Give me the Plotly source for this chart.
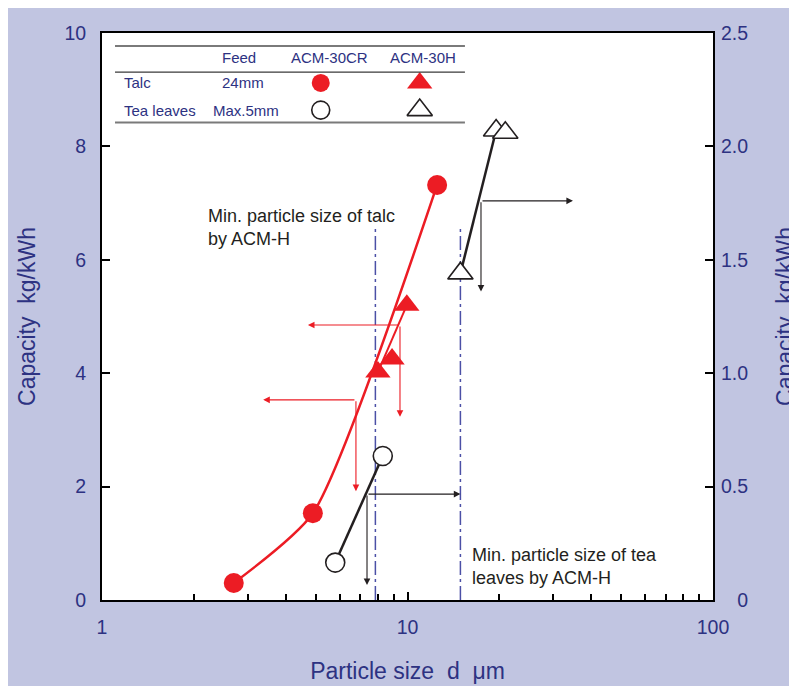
import numpy as np
import plotly.graph_objects as go

# ---------------- data ----------------
talc_cr_x = [2.7, 4.9, 12.5]          # Talc, ACM-30CR (left axis)
talc_cr_y = [0.30, 1.53, 7.32]
talc_h_x = [8.0, 8.9, 9.95]           # Talc, ACM-30H (left axis)
talc_h_y = [4.02, 4.25, 5.20]
tea_cr_x = [5.8, 8.3]                 # Tea leaves, ACM-30CR (right axis)
tea_cr_y = [0.165, 0.635]
tea_h_x = [14.9, 19.5, 20.9]          # Tea leaves, ACM-30H (right axis)
tea_h_y = [1.44, 2.07, 2.06]

min_size_x = [7.85, 14.9]             # min. particle size lines (talc, tea)
min_size_top = 6.6

# arrows: origin x, origin y, horizontal end x, vertical end y
red_arrows_ox = [9.45, 6.78]
red_arrows_oy = [4.85, 3.53]
red_arrows_hx = [4.72, 3.37]
red_arrows_vy = [3.23, 1.92]
black_arrows_ox = [7.37, 17.4]
black_arrows_oy = [0.467, 1.76]      # right axis
black_arrows_hx = [14.9, 34.8]
black_arrows_vy = [0.066, 1.36]

x_ticks = [1, 10, 100]
x_minor = [2, 3, 4, 5, 6, 7, 8, 9, 20, 30, 40, 50, 60, 70, 80, 90]
y_left_ticks = [0, 2, 4, 6, 8, 10]
y_right_ticks = [0, 0.5, 1.0, 1.5, 2.0, 2.5]
y_right_text = ["\u2007\u20080", "0.5", "1.0", "1.5", "2.0", "2.5"]

table_header = ["Feed", "ACM-30CR", "ACM-30H"]
table_rows = ["Talc", "Tea leaves"]
table_feed = ["24mm", "Max.5mm"]

# ---------------- styles ----------------
RED = "#ec1c24"
BLACK = "#231f20"
NAVY = "#2d3282"
DASH_BLUE = "#4b50a6"
BG = "#c1c5e1"
FONT = "Liberation Sans, Arial, sans-serif"

fig = go.Figure()

# vertical dash-dot lines
for xv in min_size_x:
    fig.add_trace(go.Scatter(x=[xv, xv], y=[0, min_size_top], mode="lines",
                             line=dict(color=DASH_BLUE, width=1.5, dash="14px,4px,3px,4px"),
                             hoverinfo="skip"))

# Talc ACM-30CR
fig.add_trace(go.Scatter(x=talc_cr_x, y=talc_cr_y, mode="lines",
                         line=dict(color=RED, width=2.5, shape="spline", smoothing=0.6)))
fig.add_trace(go.Scatter(x=talc_cr_x, y=talc_cr_y, mode="markers",
                         marker=dict(symbol="circle", size=20, color=RED, line=dict(width=0))))

# Talc ACM-30H
fig.add_trace(go.Scatter(x=[talc_h_x[0], talc_h_x[-1]], y=[talc_h_y[0], talc_h_y[-1]], mode="lines",
                         line=dict(color=RED, width=2)))
fig.add_trace(go.Scatter(x=talc_h_x, y=talc_h_y, mode="markers",
                         marker=dict(symbol="triangle-up", size=22, color=RED, line=dict(width=0))))

# Tea leaves ACM-30CR (right axis)
fig.add_trace(go.Scatter(x=tea_cr_x, y=tea_cr_y, mode="lines", yaxis="y2",
                         line=dict(color=BLACK, width=2.5)))
fig.add_trace(go.Scatter(x=tea_cr_x, y=tea_cr_y, mode="markers", yaxis="y2",
                         marker=dict(symbol="circle", size=19, color="white",
                                     line=dict(color=BLACK, width=1.6))))

# Tea leaves ACM-30H (right axis)
fig.add_trace(go.Scatter(x=tea_h_x[:2], y=tea_h_y[:2], mode="lines", yaxis="y2",
                         line=dict(color=BLACK, width=2.5)))
fig.add_trace(go.Scatter(x=tea_h_x, y=tea_h_y, mode="markers", yaxis="y2",
                         marker=dict(symbol="triangle-up", size=22, color="white",
                                     line=dict(color=BLACK, width=1.6))))

# ---------------- legend table markers (overlay axes 0..1 over plot area) ----------------
col_u = [0.358, 0.520]
row_v = [0.912, 0.864]
fig.add_trace(go.Scatter(x=[col_u[0]], y=[row_v[0]], xaxis="x3", yaxis="y3", mode="markers",
                         marker=dict(symbol="circle", size=18, color=RED)))
fig.add_trace(go.Scatter(x=[col_u[1]], y=[row_v[0]], xaxis="x3", yaxis="y3", mode="markers",
                         marker=dict(symbol="triangle-up", size=22, color=RED)))
fig.add_trace(go.Scatter(x=[col_u[0]], y=[row_v[1]], xaxis="x3", yaxis="y3", mode="markers",
                         marker=dict(symbol="circle", size=18, color="white",
                                     line=dict(color=BLACK, width=1.6))))
fig.add_trace(go.Scatter(x=[col_u[1]], y=[row_v[1]], xaxis="x3", yaxis="y3", mode="markers",
                         marker=dict(symbol="triangle-up", size=22, color="white",
                                     line=dict(color=BLACK, width=1.6))))

annotations = []
# table texts
tfont = dict(family=FONT, size=15, color=NAVY)
hdr_u = [0.224, 0.373, 0.525]
for t, u in zip(table_header, hdr_u):
    annotations.append(dict(x=u, y=0.956, xref="paper", yref="paper", text=t, showarrow=False,
                            font=tfont, xanchor="center", yanchor="middle"))
for t, v in zip(table_rows, row_v):
    annotations.append(dict(x=0.0327, y=v, xref="paper", yref="paper", text=t, showarrow=False,
                            font=tfont, xanchor="left", yanchor="middle"))
for t, v, u in zip(table_feed, row_v, [0.231, 0.236]):
    annotations.append(dict(x=u, y=v, xref="paper", yref="paper", text=t, showarrow=False,
                            font=tfont, xanchor="center", yanchor="middle"))

# notes
nfont = dict(family=FONT, size=18, color=BLACK)
annotations.append(dict(x=0.170, y=0.657, xref="paper", yref="paper",
                        text="Min. particle size of talc<br>by ACM-H", showarrow=False,
                        font=nfont, xanchor="left", yanchor="middle", align="left"))
annotations.append(dict(x=0.603, y=0.0594, xref="paper", yref="paper",
                        text="Min. particle size of tea<br>leaves by ACM-H", showarrow=False,
                        font=nfont, xanchor="left", yanchor="middle", align="left"))

# arrows
def add_arrows(oxs, oys, hxs, vys, color, yref):
    for ox, oy, hx, vy in zip(oxs, oys, hxs, vys):
        common = dict(xref="x", yref=yref, axref="x", ayref=yref, text="", showarrow=True,
                      arrowhead=2, arrowsize=1.2, arrowwidth=1.1, arrowcolor=color)
        annotations.append(dict(x=np.log10(hx), y=oy, ax=np.log10(ox), ay=oy, **common))
        annotations.append(dict(x=np.log10(ox), y=vy, ax=np.log10(ox), ay=oy, **common))

add_arrows(red_arrows_ox, red_arrows_oy, red_arrows_hx, red_arrows_vy, RED, "y")
add_arrows(black_arrows_ox, black_arrows_oy, black_arrows_hx, black_arrows_vy, BLACK, "y2")

# table rules
shapes = [
    dict(type="line", xref="paper", yref="paper", x0=0.0213, x1=0.594, y0=0.977, y1=0.977,
         line=dict(color="#7a7a7a", width=2)),
    dict(type="line", xref="paper", yref="paper", x0=0.0213, x1=0.594, y0=0.931, y1=0.931,
         line=dict(color="#3a3a3a", width=1.3)),
    dict(type="line", xref="paper", yref="paper", x0=0.0213, x1=0.594, y0=0.842, y1=0.842,
         line=dict(color="#7a7a7a", width=2)),
]

tickfont = dict(family=FONT, size=19.5, color=NAVY)
titlefont = dict(family=FONT, size=23, color=NAVY)

fig.update_layout(
    width=797, height=686,
    margin=dict(l=94, r=92, t=25, b=94),
    paper_bgcolor=BG, plot_bgcolor="white",
    showlegend=False,
    font=dict(family=FONT, color=NAVY),
    xaxis=dict(type="log", range=[0, 2], tickmode="array", tickvals=x_ticks,
               ticktext=[str(v) for v in x_ticks],
               ticks="inside", ticklen=8, tickwidth=1.5, tickcolor="black",
               minor=dict(tickmode="array", tickvals=x_minor, ticks="inside", ticklen=6,
                          tickwidth=1.5, tickcolor="black", showgrid=False),
               showline=True, linewidth=2, linecolor="black", mirror=True,
               showgrid=False, zeroline=False, tickfont=tickfont, ticklabelstandoff=9,
               title=dict(text="Particle size  d  μm", font=titlefont, standoff=25)),
    yaxis=dict(range=[0, 10], tickmode="array", tickvals=y_left_ticks,
               ticks="inside", ticklen=8, tickwidth=1.5, tickcolor="black",
               showline=True, linewidth=2, linecolor="black", mirror=True,
               showgrid=False, zeroline=False, tickfont=tickfont, ticklabelstandoff=10,
               title=dict(text="Capacity  kg/kWh", font=titlefont, standoff=22)),
    yaxis2=dict(range=[0, 2.5], overlaying="y", side="right", tickmode="array",
                tickvals=y_right_ticks, ticktext=y_right_text,
                ticks="inside", ticklen=8, tickwidth=1.5, tickcolor="black",
                showline=True, linewidth=2, linecolor="black",
                showgrid=False, zeroline=False, tickfont=tickfont, ticklabelstandoff=2,
                title=dict(text="Capacity  kg/kWh", font=titlefont, standoff=30)),
    xaxis3=dict(overlaying="x", anchor="y3", range=[0, 1], visible=False),
    yaxis3=dict(overlaying="y", anchor="x3", range=[0, 1], visible=False),
    annotations=annotations,
    shapes=shapes,
)

fig.write_html("out.html")
